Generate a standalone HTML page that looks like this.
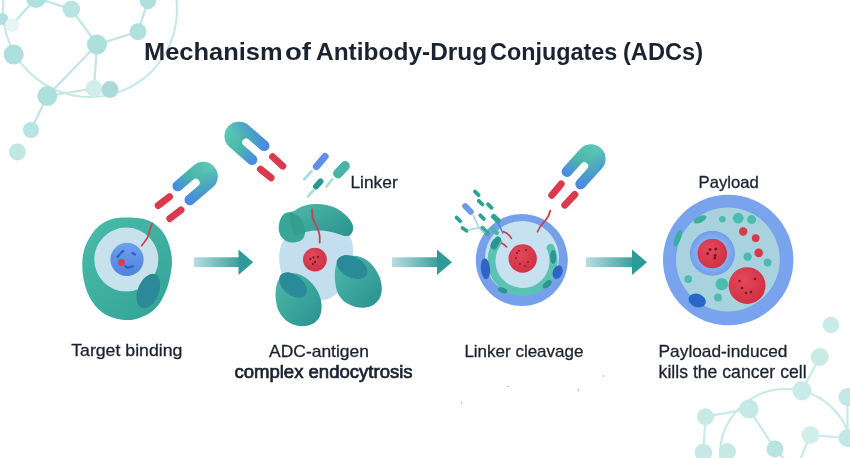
<!DOCTYPE html>
<html><head><meta charset="utf-8"><style>
html,body{margin:0;padding:0;background:#fff;}
body{width:850px;height:458px;overflow:hidden;position:relative;}
svg{position:absolute;left:0;top:0;}
text{font-family:"Liberation Sans",sans-serif;fill:#1b2330;}
svg{will-change:transform;}
</style></head><body>
<svg width="850" height="458" viewBox="0 0 850 458">
<defs>
<linearGradient id="abg" x1="0.3" y1="0" x2="0.7" y2="1"><stop offset="0" stop-color="#5ccab2"/><stop offset="0.5" stop-color="#46b0ae"/><stop offset="1" stop-color="#4a86e2"/></linearGradient>
<linearGradient id="pillg" gradientUnits="userSpaceOnUse" x1="0" y1="0" x2="0" y2="458"><stop offset="0" stop-color="#d93a4e"/><stop offset="1" stop-color="#d93a4e"/></linearGradient>
<linearGradient id="arrg" x1="0" y1="0" x2="1" y2="0"><stop offset="0" stop-color="#b9dde2"/><stop offset="1" stop-color="#3a9f9b"/></linearGradient>
<linearGradient id="cellg" x1="0" y1="0" x2="0.8" y2="1"><stop offset="0" stop-color="#4bbcab"/><stop offset="1" stop-color="#34a497"/></linearGradient>
<linearGradient id="cellg2" x1="0" y1="0" x2="1" y2="1"><stop offset="0" stop-color="#4dbaa8"/><stop offset="1" stop-color="#2a9190"/></linearGradient>
<linearGradient id="nucg" x1="0" y1="0" x2="0" y2="1"><stop offset="0" stop-color="#6e9ff0"/><stop offset="1" stop-color="#4e84dd"/></linearGradient>
<radialGradient id="nring" cx="0.5" cy="0.5" r="0.5"><stop offset="0.6" stop-color="#8ab2f2"/><stop offset="1" stop-color="#6f9ee8"/></radialGradient>
<radialGradient id="redg" cx="0.4" cy="0.35" r="0.7"><stop offset="0" stop-color="#e4485a"/><stop offset="1" stop-color="#cf3043"/></radialGradient>
</defs>
<g><circle cx="90" cy="10" r="87" fill="none" stroke="#c3e8e5" stroke-width="2"/><line x1="36" y1="-2" x2="71.4" y2="9.1" stroke="#bfe6e3" stroke-width="2.2"/><line x1="71.4" y1="9.1" x2="97" y2="44.5" stroke="#bfe6e3" stroke-width="2.2"/><line x1="12" y1="25" x2="36" y2="-2" stroke="#bfe6e3" stroke-width="2.2"/><line x1="97" y1="44.5" x2="138" y2="31.7" stroke="#bfe6e3" stroke-width="2.2"/><line x1="138" y1="31.7" x2="148" y2="1" stroke="#bfe6e3" stroke-width="2.2"/><line x1="97" y1="44.5" x2="47.3" y2="96" stroke="#bfe6e3" stroke-width="2.2"/><line x1="97" y1="44.5" x2="94" y2="88.5" stroke="#bfe6e3" stroke-width="2.2"/><line x1="47.3" y1="96" x2="94" y2="88.5" stroke="#bfe6e3" stroke-width="2.2"/><line x1="94" y1="88.5" x2="110" y2="89.4" stroke="#bfe6e3" stroke-width="2.2"/><line x1="47.3" y1="96" x2="31" y2="130" stroke="#bfe6e3" stroke-width="2.2"/><circle cx="36" cy="-2" r="10" fill="#b0e0dd" opacity="1"/><circle cx="71.4" cy="9.1" r="8.7" fill="#b7e3e0" opacity="1"/><circle cx="148" cy="1.2" r="8" fill="#b0e0dd" opacity="1"/><circle cx="2.4" cy="19" r="6" fill="#b0e0dd" opacity="1"/><circle cx="12" cy="25" r="7" fill="#e8f5f4" opacity="1"/><circle cx="97" cy="44.5" r="10" fill="#ade0dc" opacity="1"/><circle cx="138" cy="31.7" r="8.5" fill="#b0e0dd" opacity="1"/><circle cx="13.7" cy="54.6" r="10" fill="#ade0dc" opacity="1"/><circle cx="47.3" cy="96" r="10" fill="#ade0dc" opacity="1"/><circle cx="94" cy="88.5" r="8.5" fill="#d2eeec" opacity="1"/><circle cx="110" cy="89.4" r="8.5" fill="#a9dcd8" opacity="1"/><circle cx="31" cy="130" r="8" fill="#b7e3e0" opacity="1"/><circle cx="17.4" cy="152" r="8.5" fill="#c0e7e4" opacity="1"/></g>
<g><circle cx="786" cy="455" r="66" fill="none" stroke="#c8eae7" stroke-width="2.2"/><line x1="705.4" y1="416.7" x2="749" y2="409" stroke="#c8eae7" stroke-width="2.2"/><line x1="705.4" y1="416.7" x2="703.4" y2="452.6" stroke="#c8eae7" stroke-width="2.2"/><line x1="749" y1="409" x2="775" y2="449" stroke="#c8eae7" stroke-width="2.2"/><line x1="802" y1="390.7" x2="819.7" y2="357" stroke="#c8eae7" stroke-width="2.2"/><line x1="810.4" y1="435" x2="847.5" y2="438" stroke="#c8eae7" stroke-width="2.2"/><line x1="810.4" y1="435" x2="800" y2="460" stroke="#c8eae7" stroke-width="2.2"/><line x1="847.5" y1="397" x2="847.5" y2="438" stroke="#c8eae7" stroke-width="2.2"/><line x1="775" y1="449" x2="790" y2="465" stroke="#c8eae7" stroke-width="2.2"/><circle cx="831" cy="325" r="8.3" fill="#c8ebe8" opacity="1"/><circle cx="819.7" cy="357" r="9" fill="#c8ebe8" opacity="1"/><circle cx="802" cy="390.7" r="9.6" fill="#c8ebe8" opacity="1"/><circle cx="847.5" cy="397" r="9" fill="#c2e8e5" opacity="1"/><circle cx="749" cy="409" r="9.6" fill="#c6e9e6" opacity="1"/><circle cx="705.4" cy="416.7" r="8.5" fill="#c6e9e6" opacity="1"/><circle cx="810.4" cy="435" r="9" fill="#d2eeec" opacity="1"/><circle cx="847.5" cy="438" r="9" fill="#c2e8e5" opacity="1"/><circle cx="775" cy="449" r="8.5" fill="#b8e4e1" opacity="1"/><circle cx="727.5" cy="451.6" r="8.5" fill="#c6e9e6" opacity="1"/><circle cx="703.4" cy="452.6" r="9" fill="#c6e9e6" opacity="1"/></g>
<rect x="193.9" y="257.3" width="45.599999999999994" height="9.8" fill="url(#arrg)"/>
<path d="M238.5 249.5 L253.2 262.3 L238.5 275.1Z" fill="#2f9a97"/>
<rect x="392" y="257.3" width="46" height="9.8" fill="url(#arrg)"/>
<path d="M437 249.5 L452 262.3 L437 275.1Z" fill="#2f9a97"/>
<rect x="585.9" y="257.3" width="47.10000000000002" height="9.8" fill="url(#arrg)"/>
<path d="M632 249.5 L647 262.3 L632 275.1Z" fill="#2f9a97"/>
<path d="M126.7 217.4 C132.8 217.4 140.9 217.7 146.6 219.7 C152.3 221.7 157.0 225.3 160.8 229.6 C164.6 233.9 167.5 239.5 169.3 245.4 C171.1 251.3 172.4 257.6 171.8 265.2 C171.2 272.8 169.1 283.3 166.0 290.8 C162.9 298.3 159.3 305.5 153.5 310.3 C147.7 315.1 138.8 319.1 131.0 319.9 C123.2 320.7 113.5 318.5 106.9 315.3 C100.3 312.1 95.5 306.9 91.5 300.5 C87.5 294.1 84.5 285.2 83.2 277.0 C81.9 268.8 81.8 259.0 83.8 251.1 C85.8 243.2 91.0 234.8 95.3 229.6 C99.6 224.4 104.5 221.7 109.7 219.7 C114.9 217.7 120.6 217.4 126.7 217.4Z" fill="url(#cellg)"/>
<circle cx="126.3" cy="259.6" r="32" fill="#c8e2eb"/>
<ellipse cx="148.3" cy="291" rx="10.5" ry="18" transform="rotate(22 148.3 291)" fill="#2a8a98"/>
<circle cx="127" cy="259.4" r="16.6" fill="url(#nucg)"/>
<path d="M120.7 253.1 L123.3 250.9 M117.6 257 L119.4 254.8 M132.5 253.1 L135.1 254.4 M125.5 266.2 Q127.7 268.6 129.8 267.1 L132.9 266.2" fill="none" stroke="#2c5fc0" stroke-width="2.2" stroke-linecap="round"/>
<circle cx="121.5" cy="262.5" r="3.4" fill="#e0394b"/>
<path d="M141.6 245.7 C145 241 147.5 239 148.5 235 C149.5 230 150.5 227 152.3 223.3" fill="none" stroke="#d0404f" stroke-width="1.7" stroke-linecap="round"/>
<linearGradient id="abg1" gradientUnits="userSpaceOnUse" x1="214.33" y1="166.88" x2="179.73" y2="196.43"><stop offset="0" stop-color="#5ccab4"/><stop offset="0.55" stop-color="#4ab4ab"/><stop offset="0.88" stop-color="#4a90df"/><stop offset="1" stop-color="#4a86e2"/></linearGradient><path d="M174.34 181.96 L193.88 165.27 A14.5 14.5 0 0 1 212.72 187.33 L193.17 204.02 A5.3 5.3 0 0 1 186.29 195.96 L198.30 185.70 A3.9 3.9 0 0 0 193.24 179.76 L181.22 190.03 A5.3 5.3 0 0 1 174.34 181.96Z" fill="url(#abg1)"/><linearGradient id="abg1n" gradientUnits="userSpaceOnUse" x1="193.88" y1="165.27" x2="212.72" y2="187.33"><stop offset="0.45" stop-color="#4a86e2" stop-opacity="0"/><stop offset="1" stop-color="#4a86e2" stop-opacity="0.6"/></linearGradient><path d="M174.34 181.96 L193.88 165.27 A14.5 14.5 0 0 1 212.72 187.33 L193.17 204.02 A5.3 5.3 0 0 1 186.29 195.96 L198.30 185.70 A3.9 3.9 0 0 0 193.24 179.76 L181.22 190.03 A5.3 5.3 0 0 1 174.34 181.96Z" fill="url(#abg1n)"/><line x1="158.2" y1="205.6" x2="169.5" y2="196.7" stroke="url(#pillg)" stroke-width="7" stroke-linecap="round"/><line x1="169.8" y1="218.6" x2="181.0" y2="209.9" stroke="url(#pillg)" stroke-width="7" stroke-linecap="round"/>
<path d="M316.0 224.0 C322.7 223.5 329.3 223.8 335.0 226.0 C340.7 228.2 347.0 232.2 350.0 237.0 C353.0 241.8 353.3 248.2 353.0 255.0 C352.7 261.8 351.0 271.3 348.0 278.0 C345.0 284.7 339.7 291.2 335.0 295.0 C330.3 298.8 325.8 300.3 320.0 300.5 C314.2 300.7 305.8 299.1 300.0 296.0 C294.2 292.9 288.4 287.7 285.0 282.0 C281.6 276.3 279.8 268.5 279.3 262.0 C278.8 255.5 279.4 248.5 282.0 243.0 C284.6 237.5 289.3 232.2 295.0 229.0 C300.7 225.8 309.3 224.5 316.0 224.0Z" fill="#c3deef"/>
<clipPath id="cpbl"><path d="M280.5 277.9 C282.6 276.0 286.0 274.2 289.2 273.6 C292.4 273.0 296.2 273.2 299.7 274.5 C303.2 275.8 307.1 278.5 310.2 281.4 C313.2 284.3 316.1 288.1 318.0 291.9 C319.9 295.7 321.2 300.0 321.5 304.1 C321.8 308.2 321.4 313.0 319.8 316.4 C318.2 319.8 315.2 322.6 311.9 324.2 C308.5 325.8 303.8 326.4 299.7 326.0 C295.6 325.6 291.0 324.1 287.5 321.6 C284.0 319.1 280.7 315.2 278.7 311.1 C276.7 307.0 276.0 301.6 275.6 297.2 C275.2 292.8 275.8 288.1 276.6 284.9 C277.4 281.7 278.4 279.8 280.5 277.9Z"/></clipPath><clipPath id="cpbr"><path d="M339.0 260.5 C341.2 258.6 345.0 256.7 348.6 256.1 C352.2 255.5 357.0 255.7 360.8 257.0 C364.6 258.3 368.2 260.8 371.3 264.0 C374.4 267.2 377.4 272.1 379.2 276.2 C380.9 280.3 381.8 284.6 381.8 288.4 C381.8 292.2 380.9 296.0 379.2 298.9 C377.4 301.8 374.6 304.4 371.3 305.9 C368.0 307.3 363.2 308.0 359.1 307.6 C355.0 307.2 350.4 305.6 346.9 303.3 C343.4 301.0 340.1 297.6 338.1 293.7 C336.1 289.8 335.4 284.1 335.0 279.7 C334.6 275.3 334.8 270.7 335.5 267.5 C336.2 264.3 336.8 262.4 339.0 260.5Z"/></clipPath><clipPath id="cplb"><path d="M289.2 212.2 C291.4 212.4 294.6 213.7 296.8 215.3 C299.0 216.9 300.9 219.2 302.3 221.8 C303.7 224.4 304.8 227.9 305.0 230.6 C305.2 233.3 304.8 236.3 303.4 238.2 C302.0 240.1 299.4 241.4 296.8 242.0 C294.2 242.6 290.7 242.8 288.1 242.0 C285.6 241.2 283.1 239.2 281.5 237.1 C279.9 235.0 279.1 232.2 278.8 229.5 C278.5 226.8 279.1 223.2 279.9 220.7 C280.7 218.1 282.1 215.6 283.7 214.2 C285.2 212.8 287.0 212.0 289.2 212.2Z"/></clipPath>
<path d="M290.0 214.0 C290.2 210.3 291.9 212.2 294.1 210.9 C296.3 209.6 300.0 207.1 303.4 206.0 C306.8 204.9 310.5 204.3 314.3 204.1 C318.1 203.9 322.5 204.1 326.3 204.9 C330.1 205.7 333.9 207.0 337.2 208.7 C340.5 210.4 343.4 212.9 345.9 215.3 C348.3 217.7 350.7 220.5 351.9 222.9 C353.1 225.3 353.3 227.5 353.0 229.5 C352.7 231.5 351.7 233.8 350.3 234.9 C348.9 236.0 347.2 236.3 344.8 236.0 C342.4 235.7 339.2 234.1 336.1 233.3 C333.0 232.5 329.6 231.6 326.3 231.1 C323.0 230.6 319.6 230.5 316.5 230.6 C313.4 230.7 310.4 231.0 307.7 231.6 C304.9 232.2 302.4 233.8 300.0 234.0 C297.6 234.2 294.7 236.3 293.0 233.0 C291.3 229.7 289.8 217.7 290.0 214.0Z" fill="url(#cellg2)"/>
<path d="M289.2 212.2 C291.4 212.4 294.6 213.7 296.8 215.3 C299.0 216.9 300.9 219.2 302.3 221.8 C303.7 224.4 304.8 227.9 305.0 230.6 C305.2 233.3 304.8 236.3 303.4 238.2 C302.0 240.1 299.4 241.4 296.8 242.0 C294.2 242.6 290.7 242.8 288.1 242.0 C285.6 241.2 283.1 239.2 281.5 237.1 C279.9 235.0 279.1 232.2 278.8 229.5 C278.5 226.8 279.1 223.2 279.9 220.7 C280.7 218.1 282.1 215.6 283.7 214.2 C285.2 212.8 287.0 212.0 289.2 212.2Z" fill="#39a697"/>
<path d="M290.0 214.0 C290.2 210.3 291.9 212.2 294.1 210.9 C296.3 209.6 300.0 207.1 303.4 206.0 C306.8 204.9 310.5 204.3 314.3 204.1 C318.1 203.9 322.5 204.1 326.3 204.9 C330.1 205.7 333.9 207.0 337.2 208.7 C340.5 210.4 343.4 212.9 345.9 215.3 C348.3 217.7 350.7 220.5 351.9 222.9 C353.1 225.3 353.3 227.5 353.0 229.5 C352.7 231.5 351.7 233.8 350.3 234.9 C348.9 236.0 347.2 236.3 344.8 236.0 C342.4 235.7 339.2 234.1 336.1 233.3 C333.0 232.5 329.6 231.6 326.3 231.1 C323.0 230.6 319.6 230.5 316.5 230.6 C313.4 230.7 310.4 231.0 307.7 231.6 C304.9 232.2 302.4 233.8 300.0 234.0 C297.6 234.2 294.7 236.3 293.0 233.0 C291.3 229.7 289.8 217.7 290.0 214.0Z" fill="#2f998f" opacity="0.55" clip-path="url(#cplb)"/>
<path d="M280.5 277.9 C282.6 276.0 286.0 274.2 289.2 273.6 C292.4 273.0 296.2 273.2 299.7 274.5 C303.2 275.8 307.1 278.5 310.2 281.4 C313.2 284.3 316.1 288.1 318.0 291.9 C319.9 295.7 321.2 300.0 321.5 304.1 C321.8 308.2 321.4 313.0 319.8 316.4 C318.2 319.8 315.2 322.6 311.9 324.2 C308.5 325.8 303.8 326.4 299.7 326.0 C295.6 325.6 291.0 324.1 287.5 321.6 C284.0 319.1 280.7 315.2 278.7 311.1 C276.7 307.0 276.0 301.6 275.6 297.2 C275.2 292.8 275.8 288.1 276.6 284.9 C277.4 281.7 278.4 279.8 280.5 277.9Z" fill="url(#cellg2)"/>
<ellipse cx="293" cy="285" rx="16" ry="10" transform="rotate(40 293 285)" fill="#2a8b98" clip-path="url(#cpbl)"/>
<path d="M339.0 260.5 C341.2 258.6 345.0 256.7 348.6 256.1 C352.2 255.5 357.0 255.7 360.8 257.0 C364.6 258.3 368.2 260.8 371.3 264.0 C374.4 267.2 377.4 272.1 379.2 276.2 C380.9 280.3 381.8 284.6 381.8 288.4 C381.8 292.2 380.9 296.0 379.2 298.9 C377.4 301.8 374.6 304.4 371.3 305.9 C368.0 307.3 363.2 308.0 359.1 307.6 C355.0 307.2 350.4 305.6 346.9 303.3 C343.4 301.0 340.1 297.6 338.1 293.7 C336.1 289.8 335.4 284.1 335.0 279.7 C334.6 275.3 334.8 270.7 335.5 267.5 C336.2 264.3 336.8 262.4 339.0 260.5Z" fill="url(#cellg2)"/>
<ellipse cx="352" cy="267" rx="16.5" ry="10.5" transform="rotate(28 352 267)" fill="#2a8b98" clip-path="url(#cpbr)"/>
<path d="M312.1 209.3 C312.3 213 312.2 215.5 312.8 217.8 C314 222 316 224.5 317.2 227.6 C318.7 231 319.7 234 319.7 237 L319.7 242.6" fill="none" stroke="#c9404f" stroke-width="1.8" stroke-linecap="round"/>
<circle cx="314.9" cy="259.6" r="11.9" fill="url(#redg)"/>
<circle cx="310.5" cy="259" r="1.15" fill="#7a1a28"/>
<circle cx="313.5" cy="257.5" r="1.15" fill="#7a1a28"/>
<circle cx="318" cy="257" r="1.15" fill="#7a1a28"/>
<circle cx="315" cy="262" r="1.15" fill="#7a1a28"/>
<circle cx="313" cy="264" r="1.15" fill="#7a1a28"/>
<linearGradient id="abg2" gradientUnits="userSpaceOnUse" x1="227.76" y1="126.39" x2="262.10" y2="156.24"><stop offset="0" stop-color="#5ccab4"/><stop offset="0.55" stop-color="#4ab4ab"/><stop offset="0.88" stop-color="#4a90df"/><stop offset="1" stop-color="#4a86e2"/></linearGradient><path d="M248.58 163.70 L229.19 146.84 A14.5 14.5 0 0 1 248.21 124.96 L267.61 141.82 A5.3 5.3 0 0 1 260.65 149.82 L248.73 139.45 A3.9 3.9 0 0 0 243.61 145.34 L255.54 155.70 A5.3 5.3 0 0 1 248.58 163.70Z" fill="url(#abg2)"/><linearGradient id="abg2n" gradientUnits="userSpaceOnUse" x1="229.19" y1="146.84" x2="248.21" y2="124.96"><stop offset="0.45" stop-color="#4a86e2" stop-opacity="0"/><stop offset="1" stop-color="#4a86e2" stop-opacity="0.6"/></linearGradient><path d="M248.58 163.70 L229.19 146.84 A14.5 14.5 0 0 1 248.21 124.96 L267.61 141.82 A5.3 5.3 0 0 1 260.65 149.82 L248.73 139.45 A3.9 3.9 0 0 0 243.61 145.34 L255.54 155.70 A5.3 5.3 0 0 1 248.58 163.70Z" fill="url(#abg2n)"/><line x1="272.6" y1="156.8" x2="282.7" y2="166.1" stroke="url(#pillg)" stroke-width="7" stroke-linecap="round"/><line x1="260.5" y1="169.2" x2="271.1" y2="177.8" stroke="url(#pillg)" stroke-width="7" stroke-linecap="round"/>
<line x1="311.4" y1="171.4" x2="304.2" y2="179.3" stroke="#a9dcd6" stroke-width="2.6" stroke-linecap="round"/><line x1="325" y1="156.5" x2="316.5" y2="166.5" stroke="#5f8fe6" stroke-width="7.2" stroke-linecap="round"/>
<line x1="332.3" y1="179.3" x2="326.4" y2="186.5" stroke="#a9dcd6" stroke-width="2.6" stroke-linecap="round"/><line x1="345" y1="166" x2="338" y2="173.5" stroke="#49b5a5" stroke-width="9.8" stroke-linecap="round"/>
<line x1="313.3" y1="190.4" x2="308.1" y2="196.3" stroke="#a9dcd6" stroke-width="2.6" stroke-linecap="round"/><line x1="320.5" y1="181.5" x2="316" y2="186.5" stroke="#2a968f" stroke-width="5.9" stroke-linecap="round"/>
<circle cx="521.8" cy="260" r="46" fill="#76a0ea"/>
<circle cx="522" cy="258" r="37" fill="#c6e1f0"/>
<path d="M550.60 247.90 A31 31 0 1 1 498.07 241.91" fill="none" stroke="#5cc3b4" stroke-width="8" stroke-linecap="round"/>
<circle cx="522.7" cy="258.5" r="14.2" fill="url(#redg)"/>
<circle cx="517" cy="253" r="1.1" fill="#8a1f30"/>
<circle cx="519" cy="251" r="1.1" fill="#8a1f30"/>
<circle cx="526" cy="250" r="1.1" fill="#8a1f30"/>
<circle cx="516" cy="258" r="1.1" fill="#8a1f30"/>
<circle cx="520" cy="264" r="1.1" fill="#8a1f30"/>
<circle cx="525" cy="266" r="1.1" fill="#8a1f30"/>
<circle cx="528" cy="262" r="1.1" fill="#8a1f30"/>
<ellipse cx="485.5" cy="268.7" rx="4.6" ry="10.6" transform="rotate(-5 485.5 268.7)" fill="#2f63c4"/>
<ellipse cx="557.6" cy="272.2" rx="4.8" ry="7" transform="rotate(20 557.6 272.2)" fill="#2f63c4"/>
<ellipse cx="494.9" cy="242.8" rx="3.3" ry="6.5" transform="rotate(35 494.9 242.8)" fill="#2a968f"/>
<ellipse cx="553.2" cy="257" rx="3" ry="7" transform="rotate(0 553.2 257)" fill="#2a968f"/>
<ellipse cx="547.3" cy="284.2" rx="3" ry="5.5" transform="rotate(50 547.3 284.2)" fill="#2a968f"/>
<ellipse cx="502.6" cy="290.3" rx="2.6" ry="5" transform="rotate(-70 502.6 290.3)" fill="#2a968f"/>
<path d="M537.5 231.8 Q540 225.5 544.5 221.5 Q548.8 217 550.3 210.5" fill="none" stroke="#c9404f" stroke-width="1.7" stroke-linecap="round"/>
<path d="M503 231.5 Q508.5 233 511.5 238.5 M501.5 243 Q504.5 244.5 506.6 247" fill="none" stroke="#c9404f" stroke-width="1.6" stroke-linecap="round"/>
<line x1="475.0" y1="191.6" x2="478.6" y2="195.2" stroke="#2ea394" stroke-width="3.8" stroke-linecap="round"/>
<line x1="478.8" y1="200.8" x2="482.4" y2="204.4" stroke="#2ea394" stroke-width="3.8" stroke-linecap="round"/>
<line x1="488.0" y1="204.2" x2="491.6" y2="207.8" stroke="#2ea394" stroke-width="3.8" stroke-linecap="round"/>
<line x1="456.6" y1="217.6" x2="460.2" y2="221.2" stroke="#2ea394" stroke-width="3.8" stroke-linecap="round"/>
<line x1="480.3" y1="215.3" x2="483.9" y2="218.9" stroke="#2ea394" stroke-width="3.8" stroke-linecap="round"/>
<line x1="462.5" y1="228.0" x2="466.5" y2="230.8" stroke="#2ea394" stroke-width="3.8" stroke-linecap="round"/>
<line x1="465.2" y1="206.2" x2="470.8" y2="211.8" stroke="#6e9be6" stroke-width="6" stroke-linecap="round"/>
<line x1="493.8" y1="216.6" x2="498.0" y2="220.8" stroke="#2ea394" stroke-width="5.5" stroke-linecap="round"/>
<line x1="482.5" y1="228.5" x2="487.5" y2="233.5" stroke="#3aa79a" stroke-width="5" stroke-linecap="round"/>
<line x1="493.2" y1="229.2" x2="496.8" y2="232.8" stroke="#49b5a5" stroke-width="4.5" stroke-linecap="round"/>
<line x1="494.0" y1="246.5" x2="498.0" y2="239.5" stroke="#2a968f" stroke-width="6" stroke-linecap="round"/>
<path d="M473 214.8 L479 227.8 L485 233 M479 227.8 L468.4 230" fill="none" stroke="#9fd8d2" stroke-width="1.5"/>
<path d="M497.5 222 C500 226 500.5 229 503 233" fill="none" stroke="#4f86d8" stroke-width="1.6" stroke-linecap="round"/>
<linearGradient id="abg3" gradientUnits="userSpaceOnUse" x1="600.70" y1="147.92" x2="570.26" y2="181.74"><stop offset="0" stop-color="#5ccab4"/><stop offset="0.55" stop-color="#4ab4ab"/><stop offset="0.88" stop-color="#4a90df"/><stop offset="1" stop-color="#4a86e2"/></linearGradient><path d="M563.03 168.10 L580.22 149.00 A14.5 14.5 0 0 1 601.78 168.40 L584.58 187.50 A5.3 5.3 0 0 1 576.70 180.41 L587.27 168.67 A3.9 3.9 0 0 0 581.48 163.45 L570.91 175.19 A5.3 5.3 0 0 1 563.03 168.10Z" fill="url(#abg3)"/><linearGradient id="abg3n" gradientUnits="userSpaceOnUse" x1="580.22" y1="149.00" x2="601.78" y2="168.40"><stop offset="0.45" stop-color="#4a86e2" stop-opacity="0"/><stop offset="1" stop-color="#4a86e2" stop-opacity="0.6"/></linearGradient><path d="M563.03 168.10 L580.22 149.00 A14.5 14.5 0 0 1 601.78 168.40 L584.58 187.50 A5.3 5.3 0 0 1 576.70 180.41 L587.27 168.67 A3.9 3.9 0 0 0 581.48 163.45 L570.91 175.19 A5.3 5.3 0 0 1 563.03 168.10Z" fill="url(#abg3n)"/><line x1="551.8" y1="195.2" x2="561.2" y2="183.9" stroke="url(#pillg)" stroke-width="7" stroke-linecap="round"/><line x1="564.8" y1="205.1" x2="574.8" y2="194.5" stroke="url(#pillg)" stroke-width="7" stroke-linecap="round"/>
<circle cx="728.2" cy="260" r="65.2" fill="#7aa3ee"/>
<circle cx="727.9" cy="259.5" r="51.9" fill="#a8d2de"/>
<circle cx="712.4" cy="253.3" r="22.5" fill="url(#nring)"/>
<circle cx="712.3" cy="253.5" r="14.8" fill="url(#redg)"/>
<circle cx="747.1" cy="285.6" r="18.4" fill="url(#redg)"/>
<circle cx="743.2" cy="231.5" r="4.2" fill="#d83a4a"/>
<circle cx="755.7" cy="238.1" r="3.9" fill="#d83a4a"/>
<circle cx="758.7" cy="252.9" r="4.3" fill="#d83a4a"/>
<circle cx="722.4" cy="219.3" r="3.3" fill="#4bbdb0"/>
<circle cx="738.2" cy="218.2" r="5.4" fill="#4bbdb0"/>
<circle cx="751.6" cy="219.6" r="4.5" fill="#4bbdb0"/>
<circle cx="747.7" cy="256.8" r="4.2" fill="#4bbdb0"/>
<circle cx="767.6" cy="262.5" r="3.9" fill="#4bbdb0"/>
<circle cx="688.2" cy="279.1" r="3.9" fill="#4bbdb0"/>
<circle cx="721.8" cy="284.2" r="6.2" fill="#4bbdb0"/>
<circle cx="718" cy="297.5" r="3.9" fill="#4bbdb0"/>
<ellipse cx="700.1" cy="219.3" rx="6.8" ry="3.2" transform="rotate(-25 700.1 219.3)" fill="#3aae9f"/>
<ellipse cx="677.8" cy="238.1" rx="3" ry="9" transform="rotate(20 677.8 238.1)" fill="#3aae9f"/>
<ellipse cx="697.2" cy="300.5" rx="8.9" ry="6.7" transform="rotate(20 697.2 300.5)" fill="#2a66c5"/>
<circle cx="710" cy="249.6" r="1.5" fill="#7a1a28"/>
<circle cx="715.7" cy="249" r="1.5" fill="#7a1a28"/>
<circle cx="707.7" cy="253.6" r="1.5" fill="#7a1a28"/>
<circle cx="715.1" cy="255.3" r="1.5" fill="#7a1a28"/>
<circle cx="714.8" cy="258.1" r="1.5" fill="#7a1a28"/>
<circle cx="739.5" cy="281" r="1.3" fill="#7a1a28"/>
<circle cx="755" cy="279" r="1.3" fill="#7a1a28"/>
<circle cx="742" cy="288" r="1.3" fill="#7a1a28"/>
<circle cx="746" cy="293" r="1.3" fill="#7a1a28"/>
<circle cx="751" cy="292" r="1.3" fill="#7a1a28"/>
<circle cx="603.5" cy="376" r="0.7" fill="#9aa0a6"/>
<circle cx="508.2" cy="386.4" r="0.7" fill="#9aa0a6"/>
<circle cx="578.4" cy="390" r="0.7" fill="#9aa0a6"/>
<circle cx="461.6" cy="402.8" r="0.7" fill="#9aa0a6"/>
<text x="144.00" y="60.3" font-size="24.6" font-weight="bold" textLength="138.60" lengthAdjust="spacingAndGlyphs">Mechanism</text>
<text x="285.00" y="60.3" font-size="24.6" font-weight="bold" textLength="26.00" lengthAdjust="spacingAndGlyphs">of</text>
<text x="316.00" y="60.3" font-size="24.6" font-weight="bold" textLength="171.20" lengthAdjust="spacingAndGlyphs">Antibody-Drug</text>
<text x="490.10" y="60.3" font-size="24.6" font-weight="bold" textLength="127.20" lengthAdjust="spacingAndGlyphs">Conjugates</text>
<text x="623.00" y="60.3" font-size="24.6" font-weight="bold" textLength="80.00" lengthAdjust="spacingAndGlyphs">(ADCs)</text>
<text x="350.40" y="187.8" font-size="17" textLength="47.40" lengthAdjust="spacingAndGlyphs" stroke="#1b2330" stroke-width="0.3">Linker</text>
<text x="698.60" y="187.9" font-size="16.5" textLength="60.20" lengthAdjust="spacingAndGlyphs" stroke="#1b2330" stroke-width="0.3">Payload</text>
<text x="71.20" y="356.4" font-size="17" textLength="111.20" lengthAdjust="spacingAndGlyphs" stroke="#1b2330" stroke-width="0.3">Target binding</text>
<text x="269.10" y="357.2" font-size="17" textLength="99.80" lengthAdjust="spacingAndGlyphs" stroke="#1b2330" stroke-width="0.3">ADC-antigen</text>
<text x="234.40" y="377.7" font-size="17.6" textLength="178.20" lengthAdjust="spacingAndGlyphs" stroke="#1b2330" stroke-width="0.7">complex endocytrosis</text>
<text x="464.40" y="357.2" font-size="17" textLength="119.00" lengthAdjust="spacingAndGlyphs" stroke="#1b2330" stroke-width="0.3">Linker cleavage</text>
<text x="658.60" y="357" font-size="17" textLength="128.80" lengthAdjust="spacingAndGlyphs" stroke="#1b2330" stroke-width="0.3">Payload-induced</text>
<text x="658.60" y="377.8" font-size="17.6" textLength="148.00" lengthAdjust="spacingAndGlyphs" stroke="#1b2330" stroke-width="0.3">kills the cancer cell</text>

</svg>
</body></html>
